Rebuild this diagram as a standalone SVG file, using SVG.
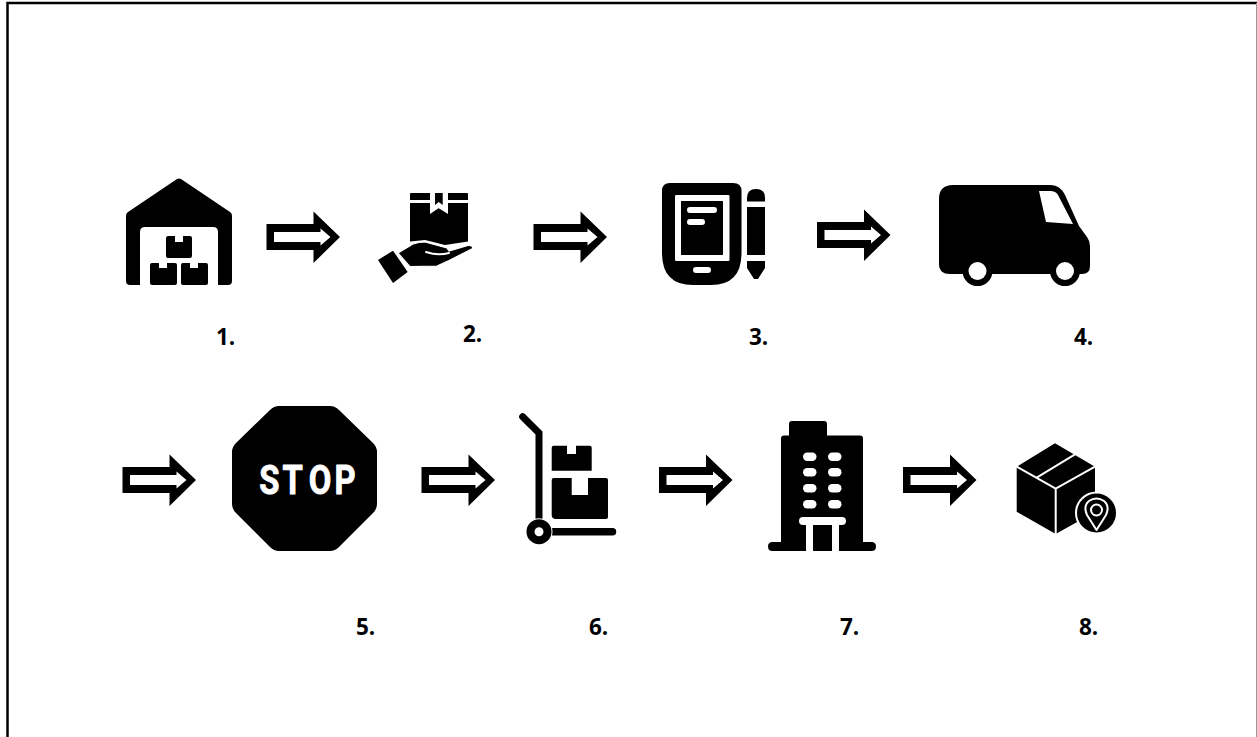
<svg xmlns="http://www.w3.org/2000/svg" width="1257" height="737" viewBox="0 0 1257 737">
<style>
.lbl{font-family:"Open Sans","Liberation Sans",sans-serif;font-weight:700;font-size:22.5px;fill:#000}
.k{fill:#000}.w{fill:#fff}
.wl{fill:none;stroke:#fff;stroke-linecap:round}
.kl{fill:none;stroke:#000;stroke-linecap:round}
</style>
<defs>
<g id="a">
<path fill="#000" d="M0 -13H47V-25.500L73.500 0L47 26V13H0Z"/>
<path fill="#fff" d="M7.500 -5H54V-8.500L64 0L54 8.500V5H7.500Z"/>
</g>
</defs>
<rect width="1257" height="737" fill="#fff"/>
<path d="M7.500 737V3H1257" fill="none" stroke="#000" stroke-width="2.500"/>
<path d="M1256.500 3V737" fill="none" stroke="#999" stroke-width="1"/>
<g id="connectors">
<use href="#a" x="266.500" y="237"/>
<use href="#a" x="533.500" y="237"/>
<use href="#a" x="817" y="235"/>
<use href="#a" x="122.500" y="480"/>
<use href="#a" x="421.500" y="480"/>
<use href="#a" x="659" y="480"/>
<use href="#a" x="903" y="480"/>
</g>
<g id="node1">
<path class="k" d="M126 216Q126 213 128 212L177 179Q179 178 181 179L230 212Q232 213 232 216V281Q232 285 228 285H218V232Q218 227 213 227H145Q140 227 140 232V285H130Q126 285 126 281Z"/>
<path class="k" d="M168 236H175V242H183V236H190Q192 236 192 238V256Q192 258 190 258H168Q166 258 166 256V238Q166 236 168 236ZM152 263H159V268H167V263H175Q177 263 177 265V283Q177 285 175 285H152Q150 285 150 283V265Q150 263 152 263ZM183 263H190V268H198V263H206Q208 263 208 265V283Q208 285 206 285H183Q181 285 181 283V265Q181 263 183 263Z"/>
<text class="lbl" x="216" y="344.500">1.</text>
</g>
<g id="node2">
<path class="k" d="M411 193H430V200H410V194Q410 193 411 193ZM448 193H467Q468 193 468 194V200H448ZM410 203H430V213L438.500 208L447.700 213V203H468V241.500L445 245L425 240L410 241.500Z"/>
<path class="w" d="M430 193H448V214L438.700 208L430 214Z"/>
<path class="k" d="M435 193H442.700V205L438.800 202L435 205Z"/>
<path class="k" d="M378 260L393 250.700L407.700 272L393 283Z"/>
<path class="k" stroke="#fff" stroke-width="1.200" d="M398 253L413 244Q419 242 425 242L447 248L449 251L468 245.500Q473 245 472.700 248.500L450 260L437 266L410 266.700Z"/>
<path class="wl" d="M426 252Q438 256 449 253" stroke-width="2"/>
<text class="lbl" x="463" y="341.500">2.</text>
</g>
<g id="node3">
<path class="k" d="M670 183H733Q741.500 183 741.500 191V253Q741.500 285 711 285H693Q662 285 662 253V191Q662 183 670 183Z"/>
<rect class="w" x="675" y="195" width="54.500" height="66" rx="1"/>
<rect class="k" x="681" y="201" width="42" height="54"/>
<rect class="w" x="687" y="207" width="30" height="6" rx="3"/>
<rect class="w" x="687" y="219" width="18" height="6" rx="3"/>
<rect class="w" x="693" y="267" width="18" height="6" rx="3"/>
<path class="k" d="M747 201.500V198Q747 189 756 189Q765 189 765 198V201.500ZM747 207H765V255H747ZM747 261H765V268L758 279H754L747 268Z"/>
<text class="lbl" x="749" y="344.500">3.</text>
</g>
<g id="node4">
<path class="k" d="M953 185H1051Q1060 185 1065 195L1079 226L1087 237Q1090 241 1090 246V266Q1090 274 1082 274H1079.700A15 15 0 0 1 1050.300 274H992.200A15 15 0 0 1 962.800 274H950Q939 274 939 264V199Q939 185 953 185Z"/>
<path class="w" d="M1039 191H1050Q1056 191 1058 195L1073 224L1046 222Z"/>
<circle class="w" cx="977.500" cy="271" r="9"/>
<circle class="w" cx="1065" cy="271" r="9"/>
<text class="lbl" x="1074" y="344.500">4.</text>
</g>
<g id="node5">
<path class="k" d="M279 406H330Q335 406 339 410L373 443Q377 447 377 452V504Q377 509 373 513L339 547Q335 551 330 551H279Q274 551 270 547L236 513Q232 509 232 504V452Q232 447 236 443L270 410Q274 406 279 406Z"/>
<text transform="translate(0 493.500) scale(.8 1)" x="324 353 386 418" y="0" font-family="Roboto,'Liberation Sans',sans-serif" font-weight="700" font-size="41" fill="#fff" stroke="#fff" stroke-width=".9" stroke-linejoin="round">STOP</text>
<text class="lbl" x="356" y="634.500">5.</text>
</g>
<g id="node6">
<path class="kl" d="M522.700 416.700L539 433V525" stroke-width="7"/>
<path class="kl" d="M549 531.700H612.500" stroke-width="7.500"/>
<circle cx="539" cy="531.700" r="13.500" fill="#fff"/>
<circle cx="539" cy="531.700" r="8.500" fill="#fff" stroke="#000" stroke-width="8"/>
<path class="k" d="M553.700 445.700H567V454H576V445.700H589.700Q591.700 445.700 591.700 447.700V470.700H551.700V447.700Q551.700 445.700 553.700 445.700ZM553.700 478H571.700V495H588V478H606Q608 478 608 480V517Q608 519 606 519H556Q551.700 519 551.700 515V480Q551.700 478 553.700 478Z"/>
<text class="lbl" x="589" y="634.500">6.</text>
</g>
<g id="node7">
<path class="k" d="M792 421H824Q827 421 827 424V435.500H860Q863 435.500 863 438.500V542H871.500Q876 542 876 546.500Q876 551 871.500 551H772.500Q768 551 768 546.500Q768 542 772.500 542H781V438.500Q781 435.500 784 435.500H789V424Q789 421 792 421Z"/>
<g class="w">
<rect x="803" y="452.500" width="13.500" height="8.500" rx="4.200"/><rect x="828" y="452.500" width="13.500" height="8.500" rx="4.200"/>
<rect x="803" y="468" width="13.500" height="8.500" rx="4.200"/><rect x="828" y="468" width="13.500" height="8.500" rx="4.200"/>
<rect x="803" y="484" width="13.500" height="8.500" rx="4.200"/><rect x="828" y="484" width="13.500" height="8.500" rx="4.200"/>
<rect x="803" y="500" width="13.500" height="8.500" rx="4.200"/><rect x="828" y="500" width="13.500" height="8.500" rx="4.200"/>
<rect x="799" y="517" width="47" height="8" rx="4"/>
<rect x="806" y="520" width="7" height="32"/><rect x="832" y="520" width="7" height="32"/>
</g>
<text class="lbl" x="840" y="634.500">7.</text>
</g>
<g id="node8">
<path class="k" d="M1016.700 466.700L1055 443.300L1095 466.700V512L1055.700 534L1016.700 511.700Z"/>
<path class="wl" d="M1016.700 466.700L1055.700 488.500L1095 466.700M1055.700 488.500V534M1036.700 477.700L1075 454.300" stroke-width="2" stroke-linecap="butt"/>
<circle cx="1096.500" cy="513" r="20.500" fill="#000" stroke="#fff" stroke-width="2"/>
<path d="M1096.500 530L1087 515Q1083 506 1089 501Q1096.500 496 1104 501Q1110 506 1106 515Z" fill="none" stroke="#fff" stroke-width="2" stroke-linejoin="round"/>
<circle cx="1096.500" cy="510" r="5.500" fill="none" stroke="#fff" stroke-width="2"/>
<text class="lbl" x="1079" y="634.500">8.</text>
</g>
</svg>
